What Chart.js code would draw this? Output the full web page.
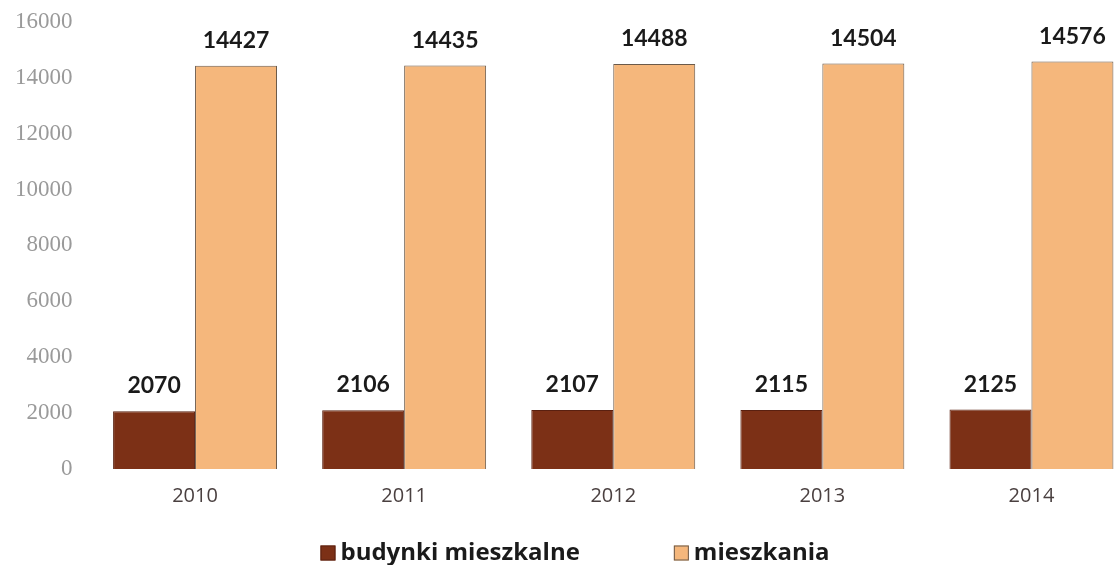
<!DOCTYPE html>
<html>
<head>
<meta charset="utf-8">
<script src="https://cdn.jsdelivr.net/npm/chart.js@4"></script>
<style>
  html, body { margin: 0; padding: 0; background: #fff; overflow: hidden; }
  #wrap { width: 1117px; height: 565px; overflow: hidden; position: relative; }
  #wykres { position: absolute; left: -3px; top: -10px; }
</style>
</head>
<body>
<div id="wrap"><canvas id="wykres" width="1140" height="575"></canvas></div>
<script>
// dane z wykresu
const lata = ["2010", "2011", "2012", "2013", "2014"];
const budynki = [2070, 2106, 2107, 2115, 2125];
const mieszkania = [14427, 14435, 14488, 14504, 14576];
const yTicks = [0, 2000, 4000, 6000, 8000, 10000, 12000, 14000, 16000];

const kolorBudynki = "#7c3016";
const kolorMieszkania = "#f5b77c";

// etykiety nad słupkami
const etykiety = {
  id: "etykiety",
  afterDatasetsDraw(chart) {
    const ctx = chart.ctx;
    ctx.save();
    ctx.font = "bold 23px Lato";
    ctx.fillStyle = "#1a1a1a";
    ctx.textAlign = "center";
    ctx.textBaseline = "alphabetic";
    chart.data.datasets.forEach((ds, i) => {
      chart.getDatasetMeta(i).data.forEach((el, j) => {
        ctx.fillText(String(ds.data[j]), el.x, el.y - 18);
      });
    });
    ctx.restore();
  }
};

// legenda na dole
const legenda = {
  id: "legenda",
  afterDraw(chart) {
    const ctx = chart.ctx;
    const box = 15, odstep = 5, przerwa = 94;
    ctx.save();
    ctx.font = "bold 24px 'Open Sans'";
    ctx.textBaseline = "middle";
    const szer = chart.data.datasets.map(ds => box + odstep + ctx.measureText(ds.label).width);
    const calosc = szer.reduce((a, b) => a + b, 0) + przerwa * (szer.length - 1);
    let x = 578 - calosc / 2;
    const y = 563;
    chart.data.datasets.forEach((ds, i) => {
      ctx.fillStyle = ds.backgroundColor;
      ctx.strokeStyle = ds.borderColor;
      ctx.lineWidth = 1;
      ctx.fillRect(x, y - box / 2, box, box);
      ctx.strokeRect(x + 0.5, y - box / 2 + 0.5, box - 1, box - 1);
      ctx.fillStyle = "#1a1a1a";
      ctx.textAlign = "left";
      ctx.fillText(ds.label, x + box + odstep, y);
      x += szer[i] + przerwa;
    });
    ctx.restore();
  }
};

new Chart(document.getElementById("wykres"), {
  type: "bar",
  data: {
    labels: lata,
    datasets: [
      { label: "budynki mieszkalne", data: budynki, backgroundColor: kolorBudynki, borderColor: "#5a2010", borderWidth: 1 },
      { label: "mieszkania", data: mieszkania, backgroundColor: kolorMieszkania, borderColor: "#6b5a4a", borderWidth: 1 }
    ]
  },
  options: {
    responsive: false,
    animation: false,
    categoryPercentage: 0.784,
    barPercentage: 1,
    layout: { padding: { left: 0, right: 1, top: 0, bottom: 42 } },
    plugins: {
      legend: { display: false },
      tooltip: { enabled: false }
    },
    scales: {
      x: {
        grid: { display: false, drawTicks: false },
        border: { display: false },
        ticks: { padding: 15, color: "#4a4040", font: { family: "Open Sans", size: 20 } }
      },
      y: {
        min: 0,
        max: 16000,
        afterBuildTicks(axis) { axis.ticks = yTicks.map(v => ({ value: v })); },
        grid: { display: false, drawTicks: false },
        border: { display: false },
        ticks: {
          padding: 18,
          color: "#9a9a9a",
          font: { family: "Liberation Serif", size: 23 },
          callback: v => String(v)
        }
      }
    }
  },
  plugins: [etykiety, legenda]
});
</script>
</body>
</html>
